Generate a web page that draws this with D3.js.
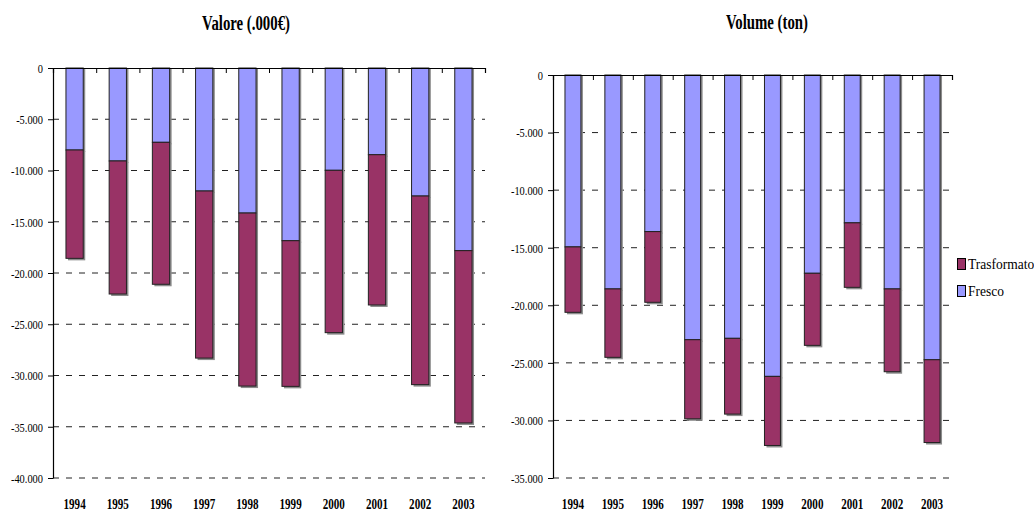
<!DOCTYPE html>
<html><head><meta charset="utf-8">
<script src="https://cdn.jsdelivr.net/npm/d3@7"></script>
<style>body{margin:0;background:#fff}svg{display:block}text{font-family:"Liberation Serif","Times New Roman",serif}</style>
</head><body><svg id="c" width="1034" height="511"></svg>
<script>
const years = ["1994","1995","1996","1997","1998","1999","2000","2001","2002","2003"];
const valoreFresco = [-8000,-9070,-7250,-12000,-14150,-16850,-9980,-8460,-12490,-17820];
const valoreTrasformato = [-10570,-12980,-13850,-16300,-16880,-14210,-15840,-14660,-18400,-16810];
const volumeFresco = [-14930,-18580,-13600,-22990,-22870,-26175,-17220,-12840,-18580,-24730];
const volumeTrasformato = [-5680,-5940,-6140,-6870,-6580,-6000,-6260,-5600,-7190,-7190];
const valoreTicks = [0,-5000,-10000,-15000,-20000,-25000,-30000,-35000,-40000];
const volumeTicks = [0,-5000,-10000,-15000,-20000,-25000,-30000,-35000];
const seriesNames = ["Trasformato","Fresco"];
const colors = {Fresco:"#9999ff", Trasformato:"#993366"};

const svg = d3.select("#c");
const loc = d3.formatLocale({decimal:",",thousands:".",grouping:[3],currency:["",""],minus:"-"});
const fmt = loc.format(",");

function chart(opt){
  const {x0,x1,yTop,yBot,yMin,ticks,fresco,trasf,title,tx,ty} = opt;
  const g = svg.append("g");
  const y = d3.scaleLinear().domain([yMin,0]).range([yBot,yTop]);
  const xb = d3.scaleBand().domain(years).range([x0,x1]).paddingInner(0.6).paddingOuter(0.3);
  const xl = d3.scaleLinear().domain([0,years.length]).range([x0,x1]);
  // grid
  g.append("g").selectAll("line").data(ticks.filter(t=>t!==0)).join("line")
    .attr("x1",x0).attr("x2",x1).attr("y1",d=>y(d)).attr("y2",d=>y(d))
    .attr("stroke","#222").attr("stroke-width",1).attr("stroke-dasharray","6,7");
  // bars
  const data = years.map((yr,i)=>({yr, f:fresco[i], t:trasf[i]}));
  const bars = g.append("g");
  data.forEach(d=>{
    const segs = [{s:"Fresco",a:0,b:d.f},{s:"Trasformato",a:d.f,b:d.f+d.t}];
    segs.forEach(s=>{
      bars.append("rect").attr("x",xb(d.yr)+2).attr("y",y(s.a)+1)
        .attr("width",xb.bandwidth()).attr("height",y(s.b)-y(s.a)+1).attr("fill","#8c8c8c");
    });
    segs.forEach(s=>{
      bars.append("rect").attr("x",xb(d.yr)).attr("y",y(s.a))
        .attr("width",xb.bandwidth()).attr("height",y(s.b)-y(s.a))
        .attr("fill",colors[s.s]).attr("stroke","#222").attr("stroke-width",1);
    });
  });
  // x axis at zero with ticks downward at category boundaries
  const xa = g.append("g").attr("transform",`translate(0,${y(0)})`)
    .call(d3.axisBottom(xl).tickValues(d3.range(1,years.length+1)).tickSize(5).tickFormat(""));
  xa.select(".domain").attr("stroke","#000").attr("stroke-width",1.2);
  xa.selectAll("line").attr("stroke","#000");
  // y axis
  const ya = g.append("g").attr("transform",`translate(${x0},0)`)
    .call(d3.axisLeft(y).tickValues(ticks).tickSize(5).tickSizeOuter(0).tickFormat(d=>d===0?"0":fmt(d)));
  ya.select(".domain").attr("stroke","#000").attr("stroke-width",1.2);
  ya.selectAll("line").attr("stroke","#000");
  ya.selectAll("text").attr("font-size",13).attr("fill","#000")
    .attr("x",-10/0.8).attr("dy","0.33em").attr("transform","scale(0.8,1)")
    .attr("font-family","'Liberation Serif',serif");
  // year labels
  const xla = g.append("g").attr("transform",`translate(0,509)`)
    .call(d3.axisBottom(xb).tickSize(0).tickPadding(0));
  xla.select(".domain").remove();
  xla.selectAll(".tick text").attr("y",0).attr("dy",0)
    .attr("font-size",15).attr("font-weight","bold").attr("fill","#000")
    .attr("font-family","'Liberation Serif',serif").attr("transform","scale(0.74,1)");
  xla.selectAll(".tick").attr("transform",d=>`translate(${xb(d)+xb.bandwidth()/2},0)`);
  // title
  g.append("text").attr("transform",`translate(${tx},${ty}) scale(0.74,1)`)
    .attr("text-anchor","middle").attr("font-size",20).attr("font-weight","bold").text(title);
}

chart({x0:53,x1:485,yTop:68,yBot:478,yMin:-40000,ticks:valoreTicks,
  fresco:valoreFresco,trasf:valoreTrasformato,title:"Valore (.000€)",tx:246,ty:30});
chart({x0:553,x1:952,yTop:75,yBot:478,yMin:-35000,ticks:volumeTicks,
  fresco:volumeFresco,trasf:volumeTrasformato,title:"Volume (ton)",tx:767,ty:29});

// legend
const lg = svg.append("g");
seriesNames.forEach((s,i)=>{
  const yy = 258 + i*27;
  lg.append("rect").attr("x",957.5).attr("y",yy+0.5).attr("width",8).attr("height",11)
    .attr("fill",colors[s]).attr("stroke","#000").attr("stroke-width",1);
  lg.append("text").attr("transform",`translate(968,${yy+11}) scale(0.9,1)`)
    .attr("font-size",15).attr("fill","#000").text(s);
});
</script></body></html>
